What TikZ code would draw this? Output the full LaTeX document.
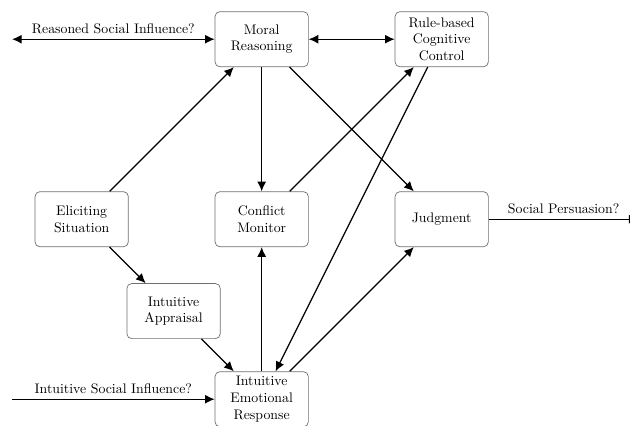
\documentclass[tikz,border=0pt]{standalone}
\usepackage{xcolor}
\definecolor{BoxGray}{RGB}{110, 110, 110}
\usepackage{tikz}
\usetikzlibrary{arrows.meta,positioning}

\begin{document}
\begin{tikzpicture}[->,>={Latex[length=7pt,width=6.5pt]},line width=0.9pt,auto,
                    node distance=4.572cm]
  \tikzstyle{box}=[draw=BoxGray,line width=0.5pt,rounded corners=3.5pt,
                   minimum width=2.37cm,minimum height=1.4cm,align=center]

  \useasboundingbox (-6.647,0.996) rectangle (9.355,-9.824);

  \node[box]         (Moral)      {Moral\\Reasoning};
  \node[box]         (RuleBased)  [right of=Moral] {Rule-based\\Cognitive\\Control};
  \node[box]         (Conflict)   [below of=Moral] {Conflict\\Monitor};
  \node[box]         (Eliciting)  [left of=Conflict] {Eliciting\\Situation};
  \node[box]         (Judgment)   [right of=Conflict] {Judgment};
  \node[box]         (Emotional)  [below of=Conflict] {Intuitive\\Emotional\\Response};
  \node[box, node distance=3.3cm] (Appraisal) [below right of=Eliciting] {Intuitive\\Appraisal};

  \coordinate[left of=Moral, node distance=6.342cm]      (reasonedEnd);
  \coordinate[left of=Emotional, node distance=6.342cm]  (intuitiveEnd);
  \coordinate[right of=Judgment, node distance=5.0cm]    (persuasionEnd);

  \path (reasonedEnd) edge [<->]  node {Reasoned Social Influence?} (Moral)
        (Moral)       edge [<->]  (RuleBased)
        (Eliciting)   edge        (Moral)
        (Moral)       edge        (Conflict)
        (Moral)       edge        (Judgment)
        (Conflict)    edge        (RuleBased)
        (RuleBased)   edge        (Emotional)
        (Eliciting)   edge        (Appraisal)
        (Appraisal)   edge        (Emotional)
        (Emotional)   edge        (Conflict)
        (Emotional)   edge        (Judgment)
        (intuitiveEnd) edge       node {Intuitive Social Influence?} (Emotional)
        (Judgment)    edge        node {Social Persuasion?} (persuasionEnd)
        ;
\end{tikzpicture}
\end{document}
